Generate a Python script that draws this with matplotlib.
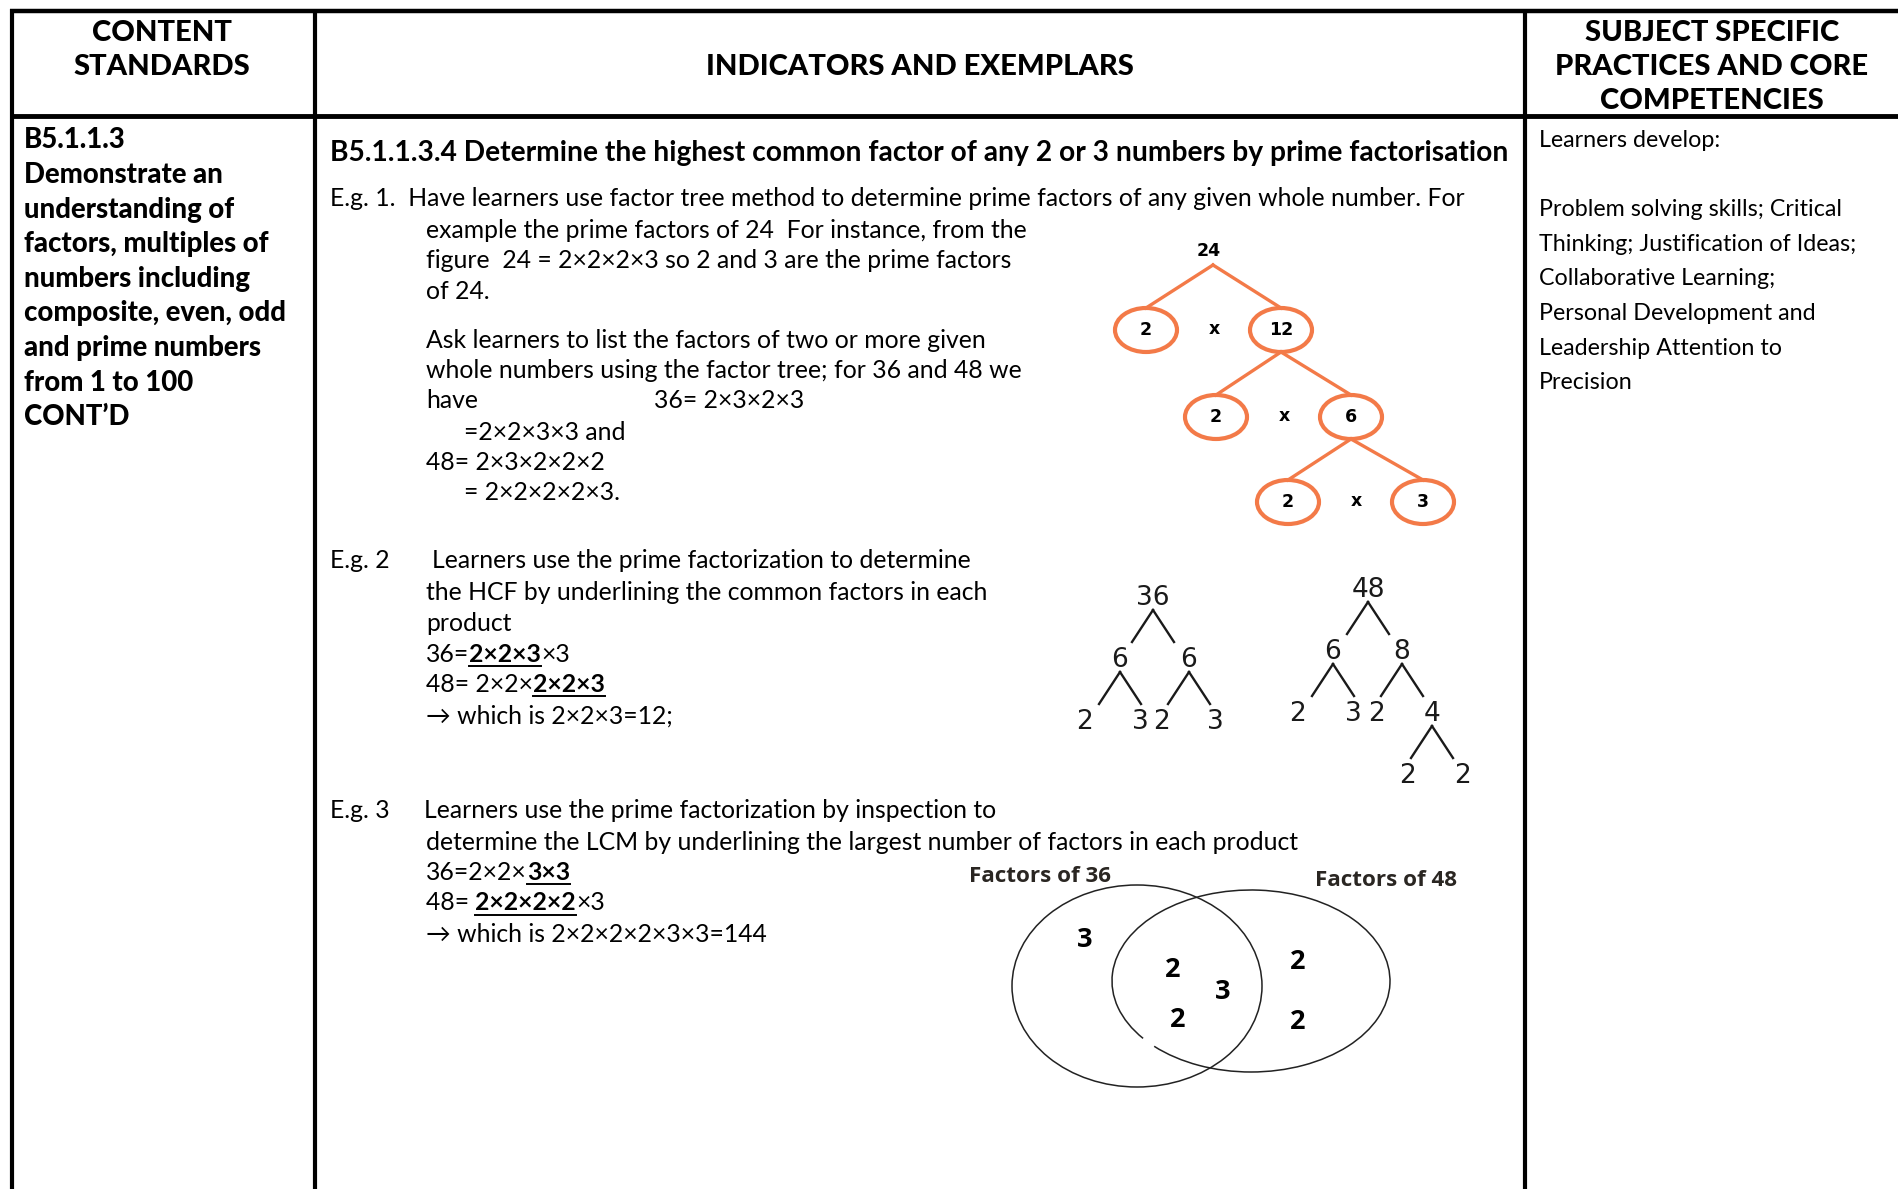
import matplotlib
matplotlib.use('Agg')
import matplotlib.pyplot as plt
from matplotlib.patches import Ellipse, Arc

W, H = 1898, 1189
FONT = ['Lato', 'DejaVu Sans']
VENN_FONT = ['Open Sans', 'DejaVu Sans']
ORANGE = '#F37A48'

# ---- text content ----
header_content = ['CONTENT', 'STANDARDS']
header_indicators = ['INDICATORS AND EXEMPLARS']
header_practices = ['SUBJECT SPECIFIC', 'PRACTICES AND CORE', 'COMPETENCIES']

standard_lines = ['B5.1.1.3', 'Demonstrate an', 'understanding of', 'factors, multiples of',
                  'numbers including', 'composite, even, odd', 'and prime numbers',
                  'from 1 to 100', 'CONT\u2019D']

practice_lines = ['Learners develop:', '', 'Problem solving skills; Critical',
                  'Thinking; Justification of Ideas;', 'Collaborative Learning;',
                  'Personal Development and', 'Leadership Attention to', 'Precision']

indicator_title = ('B5.1.1.3.4 Determine the highest common factor of any 2 or 3 '
                   'numbers by prime factorisation')

eg1_head = 'E.g. 1.  Have learners use factor tree method to determine prime factors of any given whole number. For'
eg1_lines = ['example the prime factors of 24  For instance, from the',
             'figure  24 = 2\u00d72\u00d72\u00d73 so 2 and 3 are the prime factors',
             'of 24.']
eg1b_lines = ['Ask learners to list the factors of two or more given',
              'whole numbers using the factor tree; for 36 and 48 we',
              'have']
eg1b_eq36 = '36= 2\u00d73\u00d72\u00d73'
eg1b_rest = ['=2\u00d72\u00d73\u00d73 and', '48= 2\u00d73\u00d72\u00d72\u00d72', '= 2\u00d72\u00d72\u00d72\u00d73.']

eg2_label = 'E.g. 2'
eg2_lines = ['Learners use the prime factorization to determine',
             'the HCF by underlining the common factors in each',
             'product']
# runs: (text, bold+underlined)
eg2_runs = [[('36=', False), ('2\u00d72\u00d73', True), ('\u00d73', False)],
            [('48= 2\u00d72\u00d7', False), ('2\u00d72\u00d73', True)],
            [('\u2192 which is 2\u00d72\u00d73=12;', False)]]

eg3_label = 'E.g. 3'
eg3_lines = ['Learners use the prime factorization by inspection to',
             'determine the LCM by underlining the largest number of factors in each product']
eg3_runs = [[('36=2\u00d72\u00d7', False), ('3\u00d73', True)],
            [('48= ', False), ('2\u00d72\u00d72\u00d72', True), ('\u00d73', False)],
            [('\u2192 which is 2\u00d72\u00d72\u00d72\u00d73\u00d73=144', False)]]

# factor tree of 24: root, then (left prime, right composite) at each level
tree24_root = '24'
tree24_pairs = [('2', '12'), ('2', '6'), ('2', '3')]

# factor trees of 36 and 48 (label, children)
tree36 = ('36', [('6', [('2', []), ('3', [])]), ('6', [('2', []), ('3', [])])])
tree48 = ('48', [('6', [('2', []), ('3', [])]),
                 ('8', [('2', []), ('4', [('2', []), ('2', [])])])])
# child label offsets from parent label (left, right), per node in preorder
tree36_offsets = [(-33, 36), (-35, 20), (-27, 26)]
tree48_offsets = [(-35, 34), (-35, 20), (-25, 30), (-24, 31)]

# venn diagram of prime factors
venn_titles = ['Factors of 36', 'Factors of 48']
venn_only36 = ['3']
venn_common = ['2', '2', '3']
venn_only48 = ['2', '2']

# ---- figure ----
fig = plt.figure(figsize=(W / 100, H / 100), dpi=100)
ax = fig.add_axes([0, 0, 1, 1])
ax.set_xlim(0, W)
ax.set_ylim(H, 0)
ax.axis('off')
renderer = fig.canvas.get_renderer()


def txt(x, y, s, size, weight='normal', **kw):
    return ax.text(x, y, s, fontsize=size, fontweight=weight,
                   family=kw.pop('family', FONT), va=kw.pop('va', 'baseline'),
                   ha=kw.pop('ha', 'left'), **kw)


def width(s, size, weight='normal', family=FONT):
    t1 = txt(0, 0, s + '|', size, weight, family=family)
    t2 = txt(0, 0, '|', size, weight, family=family)
    w = t1.get_window_extent(renderer).width - t2.get_window_extent(renderer).width
    t1.remove()
    t2.remove()
    return w


def fit(s, target, weight='normal', family=FONT):
    # font size that makes string s about target pixels wide
    return 20 * target / width(s, 20, weight, family)


def runs_line(x, y, runs, size):
    for s, strong in runs:
        txt(x, y, s, size, 'bold' if strong else 'normal')
        w = width(s, size, 'bold' if strong else 'normal')
        if strong:
            ax.plot([x, x + w], [y + 4, y + 4], color='black', lw=1.4)
        x += w


# table grid
ax.plot([10, W], [11, 11], color='black', lw=3.2, solid_capstyle='butt')
ax.plot([10, W], [115.5, 115.5], color='black', lw=3.5, solid_capstyle='butt')
for xv in [12.5, 314.7, 1524.7]:
    ax.plot([xv, xv], [9, H], color='black', lw=3.0, solid_capstyle='butt')

# headers
HEAVY = 'black'
HS = fit(header_indicators[0], 427, HEAVY)
for i, s in enumerate(header_content):
    txt(162, 41.2 + 34 * i, s, HS, HEAVY, ha='center')
txt(920, 75.2, header_indicators[0], HS, HEAVY, ha='center')
for i, s in enumerate(header_practices):
    txt(1712, 41.2 + 34 * i, s, HS, HEAVY, ha='center')

# left column
LSZ = fit(standard_lines[5], 262, HEAVY)
for i, s in enumerate(standard_lines):
    txt(24, 148.5 + 34.6 * i, s, LSZ, HEAVY)

# right column
RSZ = fit(practice_lines[3], 317)
for i, s in enumerate(practice_lines):
    txt(1539, 147 + 34.6 * i, s, RSZ)

# middle column
FS = fit(eg1_head, 1138)
TS = fit(indicator_title, 1174, 'bold')
LS = 30.8
D = 1.5
txt(330, 160.5, indicator_title, TS, 'bold')

txt(330, 204 + D, eg1_head, FS)
for i, s in enumerate(eg1_lines):
    txt(426, 236 + D + LS * i, s, FS)
for i, s in enumerate(eg1b_lines):
    txt(426, 346 + D + 30.2 * i, s, FS)
txt(654, 346 + D + 30.2 * 2, eg1b_eq36, FS)
txt(464, 438 + D, eg1b_rest[0], FS)
txt(426, 468 + D, eg1b_rest[1], FS)
txt(464, 498 + D, eg1b_rest[2], FS)

txt(330, 567 + D, eg2_label, FS)
txt(432, 567 + D, eg2_lines[0], FS)
for i, s in enumerate(eg2_lines[1:]):
    txt(426, 599 + D + LS * i, s, FS)
for i, r in enumerate(eg2_runs):
    runs_line(426, 660 + D + LS * i, r, FS)

txt(330, 817 + D, eg3_label, FS)
txt(424, 817 + D, eg3_lines[0], FS)
txt(426, 848 + D, eg3_lines[1], FS)
for i, r in enumerate(eg3_runs):
    runs_line(426, 878 + D + 31 * i, r, FS)

# ---- factor tree of 24 (orange circles) ----
RX, RY = 31, 22
x0, y0 = 1213, 265
CS = 12.5
txt(x0 - 4, y0 - 9, tree24_root, CS, 'bold', family='DejaVu Sans', ha='center')
px, py = x0, y0
level_y = [330, 417, 502]
for k, (a, b) in enumerate(tree24_pairs):
    cy = level_y[k]
    lx, rx = px - 67 + 2 * k, px + 68 + 2 * k
    ax.plot([px, lx], [py, cy - RY], color=ORANGE, lw=2.4)
    ax.plot([px, rx], [py, cy - RY], color=ORANGE, lw=2.4)
    for cx, s in [(lx, a), (rx, b)]:
        ax.add_patch(Ellipse((cx, cy), 2 * RX, 2 * RY, fill=False, ec=ORANGE, lw=3.0))
        txt(cx, cy, s, CS, 'bold', family='DejaVu Sans', ha='center', va='center')
    txt((lx + rx) / 2 + 1, cy - 1, 'x', CS, 'bold', family='DejaVu Sans', ha='center', va='center')
    px, py = rx, cy + RY


# ---- plain factor trees ----
def draw_tree(node, x, y, offsets, dy):
    label, kids = node
    txt(x, y, label, 19, family='DejaVu Sans', ha='center', va='center', color='#1a1a1a')
    if not kids:
        return
    offs = offsets.pop(0)
    cy = y + dy
    for sgn, off, kid in zip([-1, 1], offs, kids):
        ax.plot([x, x + sgn * 21], [y + 12, y + 44], color='#1a1a1a', lw=1.7)
        draw_tree(kid, x + off, cy, offsets, dy)


draw_tree(tree36, 1153, 598, list(tree36_offsets), 62)
draw_tree(tree48, 1368, 590, list(tree48_offsets), 62)

# ---- venn diagram ----
ax.add_patch(Ellipse((1137, 986), 250, 202, fill=False, ec='#222222', lw=1.1))
ax.add_patch(Arc((1251, 981), 278, 182, theta1=152, theta2=146, ec='#222222', lw=1.1))
VS = fit(venn_titles[0], 142, 'bold', VENN_FONT)
txt(1040, 877, venn_titles[0], VS, 'bold', family=VENN_FONT,
    ha='center', va='center', color='#2a2622')
txt(1386, 881, venn_titles[1], VS, 'bold', family=VENN_FONT,
    ha='center', va='center', color='#2a2622')
VF = dict(family=VENN_FONT, ha='center', va='center')
NS = 19.5
for (x, y), s in zip([(1085, 940)], venn_only36):
    txt(x, y, s, NS, 'bold', **VF)
for (x, y), s in zip([(1173, 970), (1178, 1020), (1223, 992)], venn_common):
    txt(x, y, s, NS, 'bold', **VF)
for (x, y), s in zip([(1298, 962), (1298, 1022)], venn_only48):
    txt(x, y, s, NS, 'bold', **VF)

fig.savefig('out.png', dpi=100, facecolor='white')
